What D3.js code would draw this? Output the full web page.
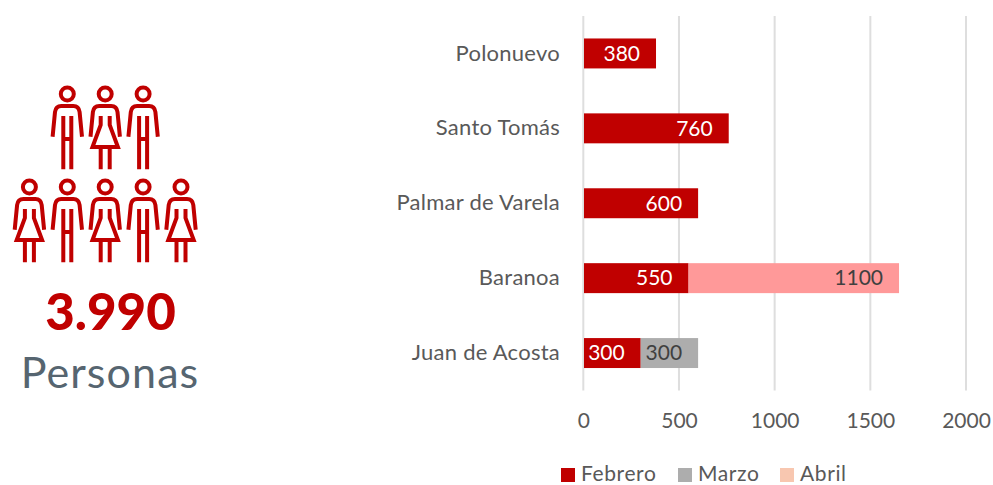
<!DOCTYPE html>
<html><head><meta charset="utf-8">
<script src="https://cdn.jsdelivr.net/npm/d3@7/dist/d3.min.js"></script>
<style>html,body{margin:0;background:#fff}svg{display:block}text{font-family:Lato,"Open Sans",sans-serif}</style>
</head><body><div id="c"></div>
<script>
const categories = ["Polonuevo","Santo Tomás","Palmar de Varela","Baranoa","Juan de Acosta"];
const seriesNames = ["Febrero","Marzo","Abril"];
const febrero = [380,760,600,550,300];
const marzo = [0,0,0,0,300];
const abril = [0,0,0,1100,0];
const xTicks = [0,500,1000,1500,2000];
const iconRow1 = ["m","w","m"];
const iconRow2 = ["w","m","w","m","w"];
const totalLabel = "3.990";
const unitLabel = "Personas";

const RED="#C00000", GREY="#ADADAD", PEACH="#F8C7B0", PINK="#FF9999", TXT="#595959";
const W=993,H=485;
const svg=d3.select("#c").append("svg").attr("width",W).attr("height",H);
const x=d3.scaleLinear().domain([0,2000]).range([583.3,966]);
const y=d3.scaleBand().domain(categories).range([16,390.5]).paddingInner(0.6).paddingOuter(0.3);

// gridlines
svg.append("g").selectAll("line").data(xTicks).join("line")
  .attr("x1",d=>x(d)).attr("x2",d=>x(d)).attr("y1",16).attr("y2",390.5)
  .attr("stroke","#DEDEDE").attr("stroke-width",2);

// stacked bars
const table=categories.map((c,i)=>({cat:c,Febrero:febrero[i],Marzo:marzo[i],Abril:abril[i]}));
const stack=d3.stack().keys(seriesNames)(table);
const fills={Febrero:RED,Marzo:GREY,Abril:PINK};
const labelFill={Febrero:"#fff",Marzo:"#404040",Abril:"#404040"};
stack.forEach(s=>{
  const g=svg.append("g");
  const pts=s.filter(d=>d[1]>d[0]);
  g.selectAll("rect").data(pts).join("rect")
    .attr("x",d=>x(d[0])+(d[0]===0?0.7:0)).attr("y",d=>y(d.data.cat))
    .attr("width",d=>x(d[1])-x(d[0])-(d[0]===0?0.7:0)).attr("height",y.bandwidth())
    .attr("fill",fills[s.key]);
  g.selectAll("text").data(pts).join("text")
    .attr("x",d=>x(d[1])-16).attr("y",d=>y(d.data.cat)+y.bandwidth()/2+2)
    .attr("dominant-baseline","middle").attr("text-anchor","end")
    .attr("font-size",21).attr("fill",labelFill[s.key]).text(d=>d[1]-d[0]);
});

// category labels
svg.append("g").selectAll("text").data(categories).join("text")
  .attr("x",560).attr("y",d=>y(d)+y.bandwidth()/2+1.5).attr("dominant-baseline","middle")
  .attr("text-anchor","end").attr("font-size",22).attr("letter-spacing",0.25).attr("fill",TXT).text(d=>d);

// x axis labels
const ax=svg.append("g").attr("transform","translate(0,423)").call(d3.axisBottom(x).tickValues(xTicks).tickSize(0).tickPadding(0).tickFormat(d3.format("d")));
ax.select(".domain").remove();
ax.selectAll("text").attr("font-size",21).attr("fill",TXT).attr("dy",0).attr("dominant-baseline","middle").style("font-family","Lato");

// legend
const legendX=d3.scaleOrdinal().domain(seriesNames).range([561,678,780]);
const legendColor=d3.scaleOrdinal().domain(seriesNames).range([RED,GREY,PEACH]);
const lg=svg.append("g").selectAll("g").data(seriesNames).join("g").attr("transform",d=>`translate(${legendX(d)},467)`);
lg.append("rect").attr("y",1).attr("width",14).attr("height",14).attr("fill",d=>legendColor(d));
lg.append("text").attr("x",20).attr("y",13.5).attr("font-size",21).attr("letter-spacing",0.6).attr("fill",TXT).text(d=>d);

// pictogram
const arms="M-14.7,42.7 L-12.3,18 Q-11.5,12 -6,12 L6,12 Q11.5,12 12.3,18 L14.7,42.7";
const man=arms+" M-4,22 V75.3 M4,22 V75.3 M-4,45 H4";
const woman=arms+" M-4.5,22 V31 L-12.7,53 H12.7 L4.5,31 V22 M-4.5,53 V75.3 M4.5,53 V75.3";
function drawRow(kinds,cx,cy){
  const g=svg.append("g").selectAll("g").data(kinds).join("g")
    .attr("transform",(d,i)=>`translate(${cx+i*37.9},${cy})`)
    .attr("fill","none").attr("stroke",RED).attr("stroke-width",4).attr("stroke-linecap","round");
  g.append("circle").attr("r",6.5);
  g.append("path").attr("stroke-linecap","butt").attr("d",d=>d==="m"?man:woman);
}
drawRow(iconRow1,67.3,94);
drawRow(iconRow2,29.4,187);

svg.append("text").attr("x",110.5).attr("y",330).attr("text-anchor","middle").attr("font-size",51).attr("font-weight",900).attr("fill",RED).text(totalLabel);
svg.append("text").attr("x",110).attr("y",388).attr("text-anchor","middle").attr("font-size",43).attr("letter-spacing",1.1).attr("fill","#566570").text(unitLabel);
</script></body></html>
